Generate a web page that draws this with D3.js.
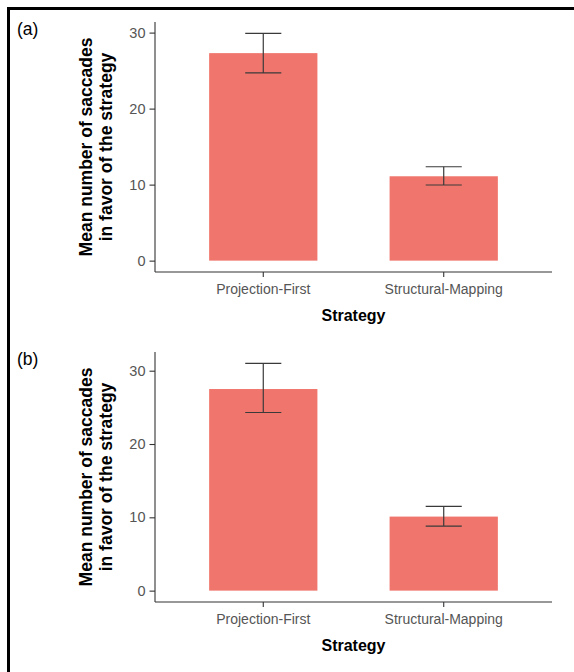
<!DOCTYPE html>
<html>
<head>
<meta charset="utf-8">
<script src="https://cdn.jsdelivr.net/npm/d3@7"></script>
<style>
  html, body { margin: 0; padding: 0; background: #fff; }
  svg { display: block; }
  text { font-family: "Liberation Sans", Arial, Helvetica, sans-serif; }
</style>
</head>
<body>
<svg id="chart" width="574" height="672"></svg>
<script>
// ---- data ----
const categories = ["Projection-First", "Structural-Mapping"];
const panelLabels = ["(a)", "(b)"];
const meansA = [27.3, 11.1];
const lowerA = [24.7, 9.95];
const upperA = [29.9, 12.35];
const meansB = [27.5, 10.1];
const lowerB = [24.3, 8.8];
const upperB = [31.0, 11.5];
const yTicks = [0, 10, 20, 30];
const xTitle = "Strategy";
const yTitleLines = ["Mean number of saccades", "in favor of the strategy"];

const panels = [
  { label: panelLabels[0], means: meansA, lower: lowerA, upper: upperA, top: 22 },
  { label: panelLabels[1], means: meansB, lower: lowerB, upper: upperB, top: 352 }
];

const svg = d3.select("#chart");
const barColor = "#f0766d";
const inkDark = "#333333";

// frame (top and left border)
svg.append("path")
  .attr("d", "M8.5,672 L8.5,8.5 L574,8.5")
  .attr("fill", "none").attr("stroke", "#000").attr("stroke-width", 3);

const left = 155, right = 552, plotH = 250;

panels.forEach(p => {
  const top = p.top, bottom = top + plotH;
  const g = svg.append("g");

  const ymax = d3.max(p.upper);
  const y = d3.scaleLinear()
    .domain([-0.05 * ymax, ymax * 1.05])
    .range([bottom, top]);

  const x = d3.scaleBand()
    .domain(categories)
    .range([left, right])
    .paddingInner(0.4)
    .paddingOuter(0.3);

  const data = categories.map((c, i) => ({ c, m: p.means[i], lo: p.lower[i], hi: p.upper[i] }));

  // bars
  g.selectAll("rect.bar").data(data).enter().append("rect")
    .attr("class", "bar")
    .attr("x", d => x(d.c))
    .attr("width", x.bandwidth())
    .attr("y", d => y(d.m))
    .attr("height", d => y(0) - y(d.m))
    .attr("fill", barColor);

  // error bars
  const capW = x.step() * 0.2;
  const eb = g.selectAll("g.err").data(data).enter().append("g")
    .attr("stroke", "#3a3a3a").attr("stroke-width", 1.2).attr("fill", "none");
  eb.append("line")
    .attr("x1", d => x(d.c) + x.bandwidth() / 2).attr("x2", d => x(d.c) + x.bandwidth() / 2)
    .attr("y1", d => y(d.lo)).attr("y2", d => y(d.hi));
  eb.append("line")
    .attr("x1", d => x(d.c) + x.bandwidth() / 2 - capW / 2).attr("x2", d => x(d.c) + x.bandwidth() / 2 + capW / 2)
    .attr("y1", d => y(d.hi)).attr("y2", d => y(d.hi));
  eb.append("line")
    .attr("x1", d => x(d.c) + x.bandwidth() / 2 - capW / 2).attr("x2", d => x(d.c) + x.bandwidth() / 2 + capW / 2)
    .attr("y1", d => y(d.lo)).attr("y2", d => y(d.lo));

  // y axis
  const yAxis = g.append("g")
    .attr("transform", `translate(${left},0)`)
    .call(d3.axisLeft(y).tickValues(yTicks).tickSize(5.5).tickPadding(4).tickSizeOuter(0));
  yAxis.select(".domain").attr("stroke", inkDark).attr("stroke-width", 1.1)
    .attr("d", `M0,${top}V${bottom}`);
  yAxis.selectAll(".tick line").attr("stroke", inkDark).attr("stroke-width", 1.1);
  yAxis.selectAll(".tick text").attr("fill", "#555").attr("font-size", "14.5px")
    .attr("font-family", "Liberation Sans, Arial, sans-serif");

  // x axis
  const xAxis = g.append("g")
    .attr("transform", `translate(0,${bottom})`)
    .call(d3.axisBottom(x).tickSize(5).tickPadding(7).tickSizeOuter(0));
  xAxis.select(".domain").attr("stroke", inkDark).attr("stroke-width", 1.1)
    .attr("d", `M${left},0H${right}`);
  xAxis.selectAll(".tick line").attr("stroke", inkDark).attr("stroke-width", 1.1);
  xAxis.selectAll(".tick text").attr("fill", "#555").attr("font-size", "14px")
    .attr("font-family", "Liberation Sans, Arial, sans-serif")
    .attr("dy", null).attr("y", 22);

  // x title
  g.append("text")
    .attr("x", (left + right) / 2).attr("y", bottom + 49)
    .attr("text-anchor", "middle")
    .attr("font-weight", "bold").attr("font-size", "16px").attr("fill", "#000")
    .text(xTitle);

  // y title (two lines)
  const cy = (top + bottom) / 2;
  yTitleLines.forEach((t, i) => {
    g.append("text")
      .attr("transform", `translate(${92 + i * 20},${cy}) rotate(-90)`)
      .attr("text-anchor", "middle")
      .attr("font-weight", "bold").attr("font-size", "17.5px").attr("fill", "#000")
      .text(t);
  });

  // panel label
  g.append("text")
    .attr("x", 17).attr("y", top + 12.5)
    .attr("font-size", "17.5px").attr("fill", "#000")
    .text(p.label);
});
</script>
</body>
</html>
